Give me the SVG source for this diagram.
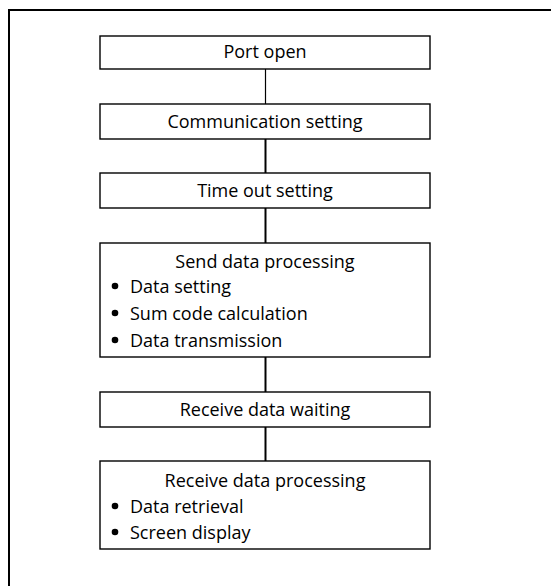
<svg xmlns="http://www.w3.org/2000/svg" width="551" height="586" viewBox="0 0 551 586">
<style>
.box{fill:#fff;stroke:#000;stroke-width:1.4}
.t{font-family:"Open Sans","Noto Sans",sans-serif;font-size:18px;fill:#000}
.c{text-anchor:middle}
.con{stroke:#000;stroke-width:2;fill:none}
</style>
<rect width="551" height="586" fill="#fff"/>
<path d="M9,586 V10 H551" fill="none" stroke="#000" stroke-width="2"/>
<g id="connectors">
<line class="con" x1="265.5" y1="69" x2="265.5" y2="104" style="stroke-width:1.2"/>
<line class="con" x1="265.5" y1="139" x2="265.5" y2="173"/>
<line class="con" x1="265.5" y1="208" x2="265.5" y2="243"/>
<line class="con" x1="265.5" y1="357" x2="265.5" y2="392"/>
<line class="con" x1="265.5" y1="427" x2="265.5" y2="461"/>
</g>
<g id="port-open">
<rect class="box" x="100" y="36" width="330" height="33"/>
<text class="t c" x="265" y="58">Port open</text>
</g>
<g id="communication-setting">
<rect class="box" x="100" y="104" width="330" height="35"/>
<text class="t c" x="265" y="128">Communication setting</text>
</g>
<g id="time-out-setting">
<rect class="box" x="100" y="173" width="330" height="35"/>
<text class="t c" x="265" y="197">Time out setting</text>
</g>
<g id="send-data-processing">
<rect class="box" x="100" y="243" width="330" height="114"/>
<text class="t c" x="265" y="268">Send data processing</text>
<circle cx="115" cy="286" r="3.3"/>
<text class="t" x="130" y="293">Data setting</text>
<circle cx="115" cy="313" r="3.3"/>
<text class="t" x="130" y="320">Sum code calculation</text>
<circle cx="115" cy="340" r="3.3"/>
<text class="t" x="130" y="347">Data transmission</text>
</g>
<g id="receive-data-waiting">
<rect class="box" x="100" y="392" width="330" height="35"/>
<text class="t c" x="265" y="416">Receive data waiting</text>
</g>
<g id="receive-data-processing">
<rect class="box" x="100" y="461" width="330" height="88"/>
<text class="t c" x="265" y="487">Receive data processing</text>
<circle cx="115" cy="506" r="3.3"/>
<text class="t" x="130" y="513">Data retrieval</text>
<circle cx="115" cy="532" r="3.3"/>
<text class="t" x="130" y="539">Screen display</text>
</g>
</svg>
